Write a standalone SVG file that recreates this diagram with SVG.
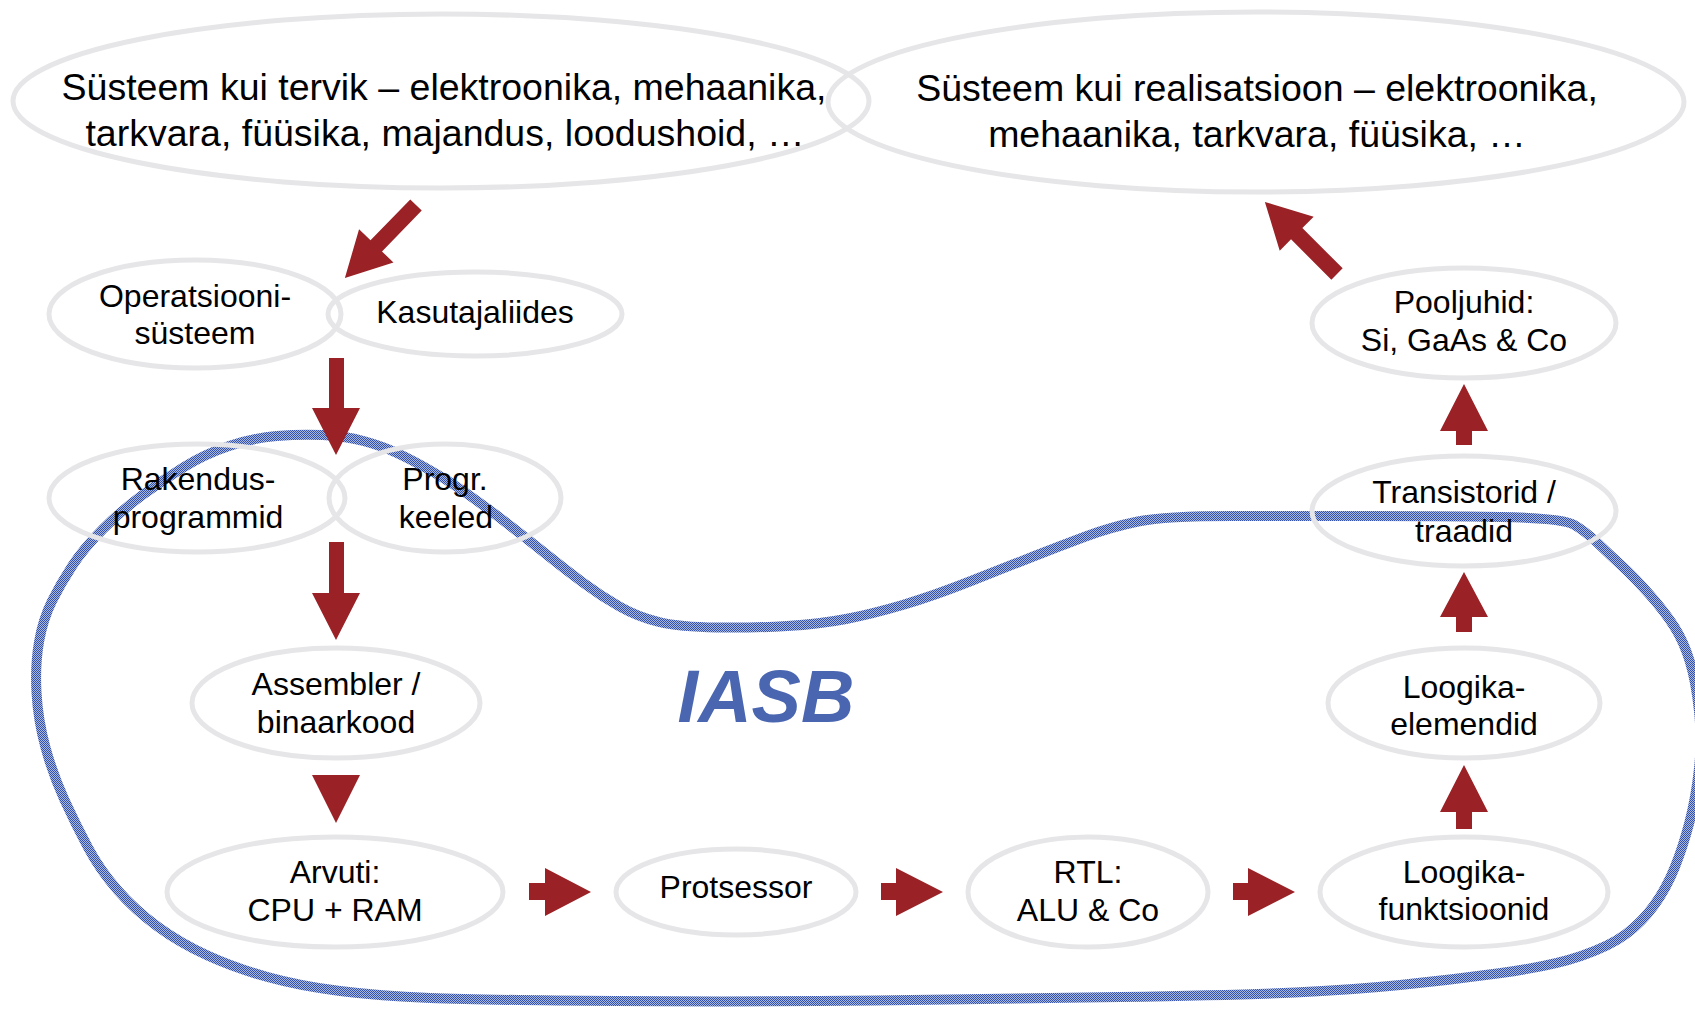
<svg xmlns="http://www.w3.org/2000/svg" width="1695" height="1009" viewBox="0 0 1695 1009">
<defs>
<pattern id="dith" width="2" height="2" patternUnits="userSpaceOnUse">
<rect width="2" height="2" fill="#a9b8e0"/>
<rect width="1" height="1" fill="#3351a8"/>
<rect x="1" y="1" width="1" height="1" fill="#3351a8"/>
</pattern>
<polygon id="diag" points="0,-8 57,-8 57,-24 102,0 57,24 57,8 0,8"/>
</defs>
<style>
.node ellipse{fill:none;stroke:#e6e6e8;stroke-width:5}
.node text{font-family:"Liberation Sans",Arial,sans-serif;font-size:32px;fill:#000;text-anchor:middle}
.big text{font-size:37.5px}
.arr{fill:#9a2125}
.blob{fill:none;stroke:url(#dith);stroke-width:10;stroke-linejoin:round}
.iasb{font-family:"Liberation Sans",Arial,sans-serif;font-weight:bold;font-style:italic;font-size:74px;fill:#4a66b0;text-anchor:middle}
</style>
<rect width="1695" height="1009" fill="#fff"/>

<g id="iasb-region">
<path class="blob" d="M276.5,436 Q300,434 322.5,435 Q345,436 363.5,441 Q382,446 397,453 Q412,460 430.5,470.5 Q449,481 469.5,495.5 Q490,510 510.5,526 Q531,542 548.5,556 Q566,570 583.5,583 Q601,596 619.5,606.5 Q638,617 659,622 Q680,627 717,627.5 Q754,628 787,626 Q820,624 846,619 Q872,614 902.5,605 Q933,596 971,581 Q1009,566 1034.5,556 Q1060,546 1085.5,536.5 Q1111,527 1138,521.5 Q1165,516 1232.5,516 Q1300,516 1370,516 Q1440,516 1501,517 Q1562,518 1573.5,524.5 Q1585,531 1596.5,542 Q1608,553 1621.5,565.5 Q1635,578 1650,595 Q1665,612 1674.5,627 Q1684,642 1690,662 Q1696,682 1699,711 Q1702,740 1699,768.5 Q1696,797 1689.5,822 Q1683,847 1674.5,868 Q1666,889 1654,905.5 Q1642,922 1626,934 Q1610,946 1581,956 Q1552,966 1501,973 Q1450,980 1400,985 Q1350,990 1295,992.5 Q1240,995 1120,997 Q1000,999 875,1000.5 Q750,1002 615,1001 Q480,1000 430,998 Q380,996 340,991 Q300,986 267.5,977 Q235,968 207.5,955.5 Q180,943 157.5,926.5 Q135,910 117.5,890 Q100,870 88,847.5 Q76,825 64.5,800 Q53,775 45.5,747.5 Q38,720 36.5,692.5 Q35,665 39,642 Q43,619 52,601 Q61,583 72.5,565.5 Q84,548 103,529 Q122,510 142.5,495 Q163,480 184,467 Q205,454 229,446 Q253,438 276.5,436 Z"/>
<text class="iasb" x="766" y="722">IASB</text>
</g>

<g id="n-tervik" class="node big">
<ellipse cx="441" cy="101" rx="428" ry="87"/>
<text x="444" y="100">Süsteem kui tervik – elektroonika, mehaanika,</text>
<text x="445" y="146">tarkvara, füüsika, majandus, loodushoid, …</text>
</g>
<g id="n-realisatsioon" class="node big">
<ellipse cx="1256" cy="102" rx="428" ry="90"/>
<text x="1257" y="101">Süsteem kui realisatsioon – elektroonika,</text>
<text x="1257" y="147">mehaanika, tarkvara, füüsika, …</text>
</g>
<g id="n-os" class="node">
<ellipse cx="195" cy="314" rx="146" ry="54"/>
<text x="195" y="307">Operatsiooni-</text>
<text x="195" y="344">süsteem</text>
</g>
<g id="n-kasutajaliides" class="node">
<ellipse cx="475" cy="314" rx="147" ry="42"/>
<text x="475" y="323">Kasutajaliides</text>
</g>
<g id="n-rakendus" class="node">
<ellipse cx="197" cy="498" rx="148" ry="54"/>
<text x="198" y="490">Rakendus-</text>
<text x="198" y="528">programmid</text>
</g>
<g id="n-progr" class="node">
<ellipse cx="445" cy="498" rx="116" ry="54"/>
<text x="445" y="490">Progr.</text>
<text x="446" y="528">keeled</text>
</g>
<g id="n-assembler" class="node">
<ellipse cx="336" cy="703" rx="144" ry="55"/>
<text x="336" y="695">Assembler /</text>
<text x="336" y="733">binaarkood</text>
</g>
<g id="n-arvuti" class="node">
<ellipse cx="335" cy="892" rx="168" ry="55"/>
<text x="335" y="883">Arvuti:</text>
<text x="335" y="921">CPU + RAM</text>
</g>
<g id="n-protsessor" class="node">
<ellipse cx="736" cy="892" rx="120" ry="43"/>
<text x="736" y="898">Protsessor</text>
</g>
<g id="n-rtl" class="node">
<ellipse cx="1088" cy="892" rx="120" ry="55"/>
<text x="1088" y="883">RTL:</text>
<text x="1088" y="921">ALU &amp; Co</text>
</g>
<g id="n-loogikafunktsioonid" class="node">
<ellipse cx="1464" cy="892" rx="144" ry="55"/>
<text x="1464" y="883">Loogika-</text>
<text x="1464" y="920">funktsioonid</text>
</g>
<g id="n-loogikaelemendid" class="node">
<ellipse cx="1464" cy="703" rx="136" ry="55"/>
<text x="1464" y="698">Loogika-</text>
<text x="1464" y="735">elemendid</text>
</g>
<g id="n-transistorid" class="node">
<ellipse cx="1464" cy="511" rx="152" ry="55"/>
<text x="1464" y="503">Transistorid /</text>
<text x="1464" y="542">traadid</text>
</g>
<g id="n-pooljuhid" class="node">
<ellipse cx="1464" cy="323" rx="152" ry="55"/>
<text x="1464" y="313">Pooljuhid:</text>
<text x="1464" y="351">Si, GaAs &amp; Co</text>
</g>

<g id="connectors" class="arr">
<use href="#diag" transform="translate(416,205) rotate(134.2)"/>
<polygon points="329,358 344,358 344,408 360,408 336,455 312,408 329,408"/>
<polygon points="329,542 344,542 344,593 360,593 336,640 312,593 329,593"/>
<polygon points="312,775 360,775 336,823"/>
<polygon points="529,883 545,883 545,868 591,892 545,916 545,900 529,900"/>
<polygon points="881,883 896,883 896,868 943,892 896,916 896,900 881,900"/>
<polygon points="1233,883 1248,883 1248,868 1295,892 1248,916 1248,900 1233,900"/>
<polygon points="1456,829 1472,829 1472,812 1488,812 1464,765 1440,812 1456,812"/>
<polygon points="1456,632 1472,632 1472,617 1488,617 1464,572 1440,617 1456,617"/>
<polygon points="1456,445 1472,445 1472,431 1488,431 1464,384 1440,431 1456,431"/>
<use href="#diag" transform="translate(1337,274) rotate(-135)"/>
</g>
</svg>
